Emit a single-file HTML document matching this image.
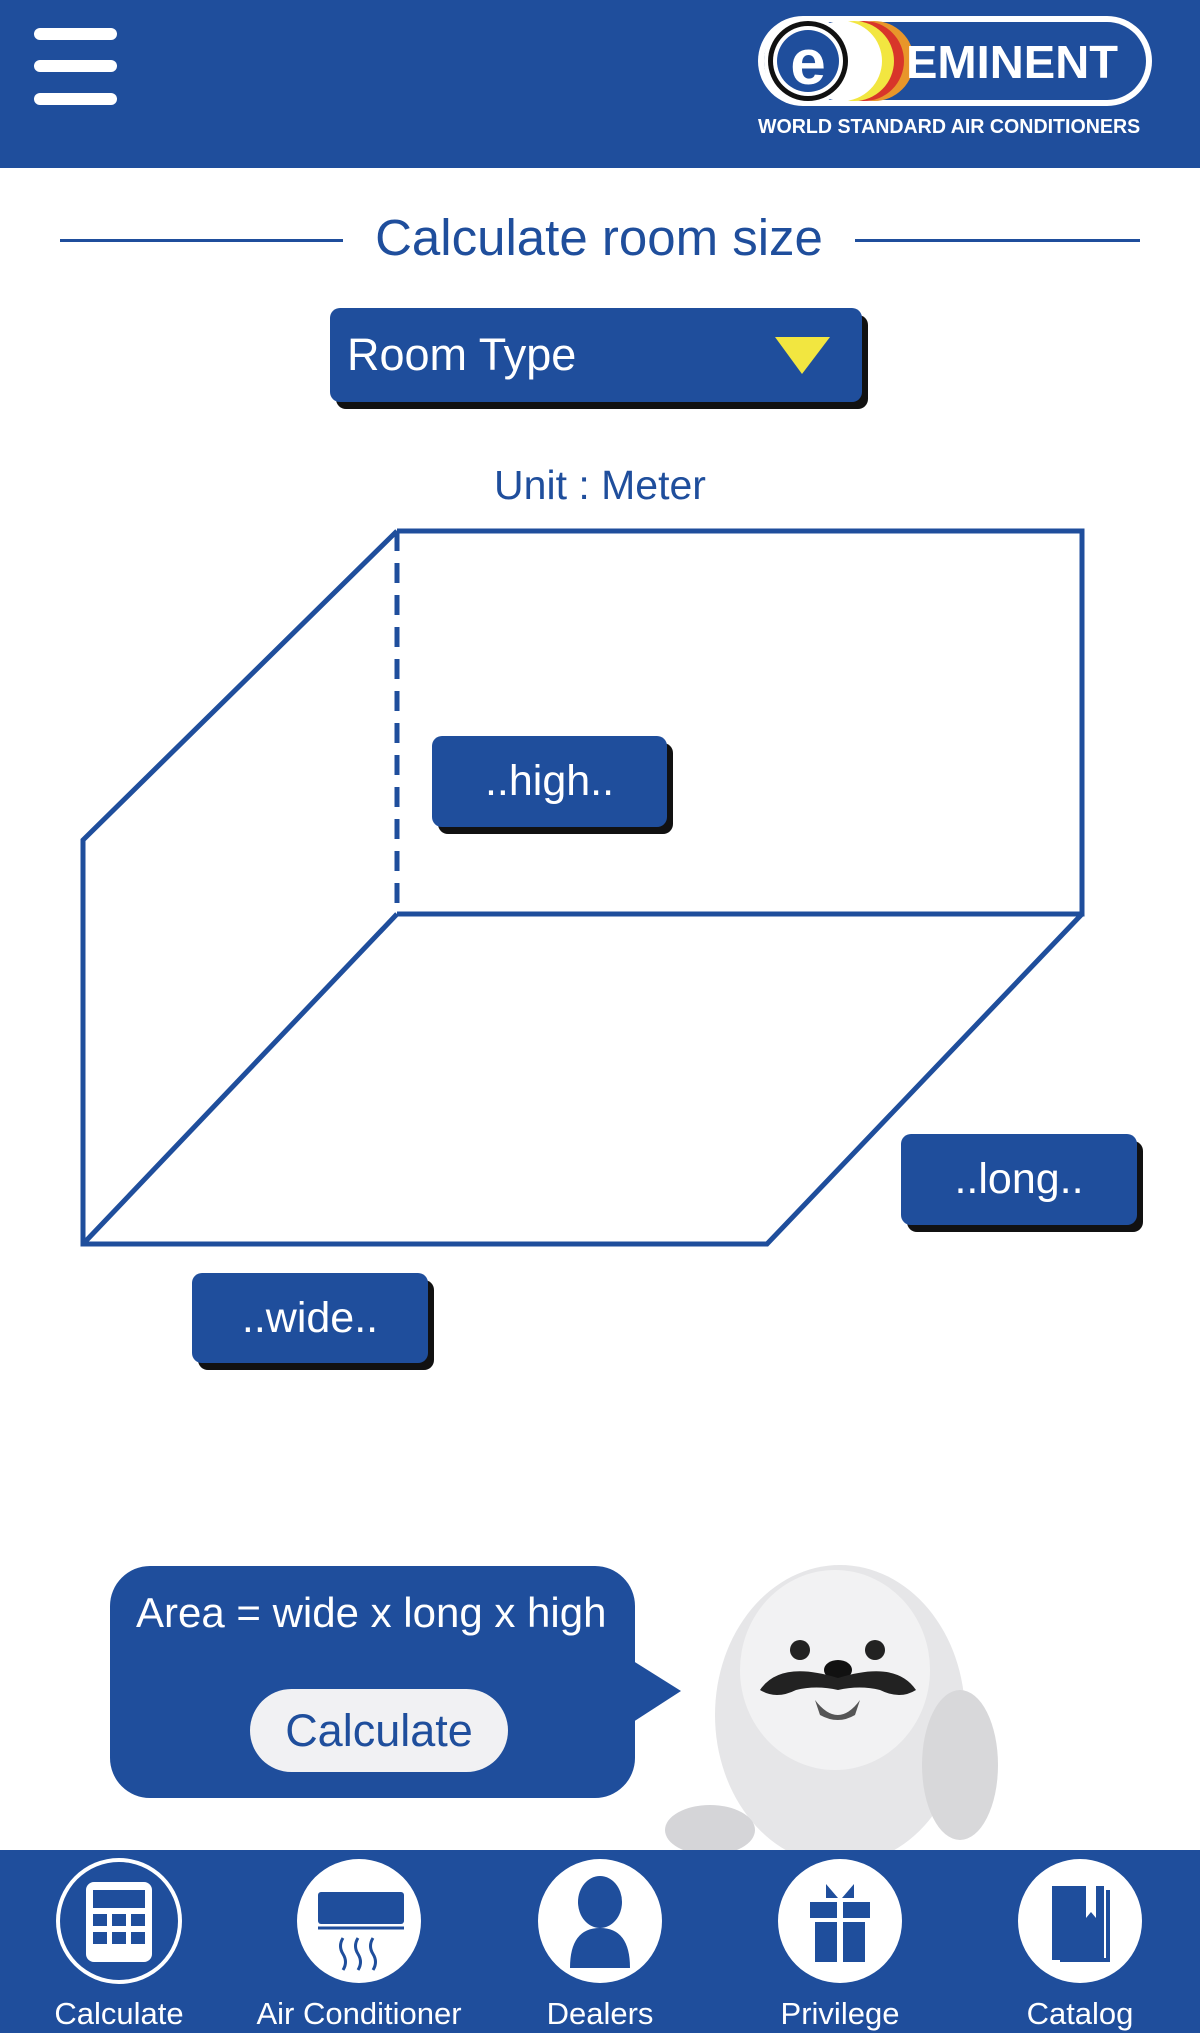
<!DOCTYPE html>
<html><head><meta charset="utf-8"><style>
html,body{margin:0;padding:0;background:#fff;}
body{width:1200px;height:2033px;position:relative;overflow:hidden;font-family:"Liberation Sans",sans-serif;}
.abs{position:absolute;}
.btn{position:absolute;background:#1f4e9c;border-radius:10px;box-shadow:6px 7px 0 #111;color:#fff;font-size:43px;display:flex;align-items:center;justify-content:center;}
.lab{position:absolute;top:1996px;color:#fff;font-size:31px;width:240px;text-align:center;}
</style></head><body>
<div class="abs" style="left:0;top:0;width:1200px;height:168px;background:#1f4e9c"></div>
<div class="abs" style="left:34px;top:28px;width:83px;height:12px;background:#fff;border-radius:6px"></div>
<div class="abs" style="left:34px;top:60px;width:83px;height:12px;background:#fff;border-radius:6px"></div>
<div class="abs" style="left:34px;top:93px;width:83px;height:12px;background:#fff;border-radius:6px"></div>
<svg class="abs" style="left:756px;top:14px" width="400" height="96">
<rect x="2" y="2" width="394" height="90" rx="45" fill="#fff"/>
<rect x="8" y="8" width="382" height="78" rx="39" fill="#1f4e9c"/>
<circle cx="118" cy="47" r="40" fill="#e8962a"/>
<circle cx="108" cy="47" r="40" fill="#d8352a"/>
<circle cx="98" cy="47" r="40" fill="#f2e640"/>
<circle cx="86" cy="47" r="40" fill="#fff"/>
<circle cx="52" cy="47" r="44" fill="#fff"/>
<circle cx="52" cy="47" r="40" fill="#111"/>
<circle cx="52" cy="47" r="35" fill="#fff"/>
<circle cx="52" cy="47" r="31" fill="#1f4e9c"/>
<text x="52" y="70" font-size="64" font-weight="bold" fill="#fff" text-anchor="middle" font-family="Liberation Sans">e</text>
<text x="150" y="64" font-size="46" font-weight="bold" fill="#fff" font-family="Liberation Sans" textLength="212" lengthAdjust="spacingAndGlyphs">EMINENT</text>
</svg>
<div class="abs" style="left:758px;top:116px;width:400px;font-size:20px;font-weight:bold;color:#fff;white-space:nowrap;transform:scaleX(0.98);transform-origin:left">WORLD STANDARD AIR CONDITIONERS</div>

<div class="abs" style="left:60px;top:239px;width:283px;height:3px;background:#1f4e9c"></div>
<div class="abs" style="left:855px;top:239px;width:285px;height:3px;background:#1f4e9c"></div>
<div class="abs" style="left:343px;top:208px;width:512px;text-align:center;font-size:51px;color:#1f4e9c">Calculate room size</div>

<div class="btn" style="left:330px;top:308px;width:532px;height:94px;justify-content:flex-start;padding-left:17px;box-sizing:border-box;font-size:45px">Room Type</div>
<svg class="abs" style="left:775px;top:337px" width="56" height="38"><polygon points="0,0 55,0 27,37" fill="#f2e640"/></svg>

<div class="abs" style="left:400px;top:462px;width:400px;text-align:center;font-size:41px;color:#1f4e9c">Unit : Meter</div>

<svg class="abs" style="left:0;top:0" width="1200" height="1400">
<g stroke="#1f4e9c" stroke-width="5" fill="none">
<polyline points="397,531 1082,531 1082,914 397,914"/>
<line x1="397" y1="531" x2="397" y2="914" stroke-dasharray="20,12"/>
<polyline points="397,531 83,840 83,1244 767,1244 1082,914"/>
<line x1="83" y1="1244" x2="397" y2="914"/>
</g></svg>

<div class="btn" style="left:432px;top:736px;width:235px;height:91px">..high..</div>
<div class="btn" style="left:901px;top:1134px;width:236px;height:91px">..long..</div>
<div class="btn" style="left:192px;top:1273px;width:236px;height:90px">..wide..</div>

<svg class="abs" style="left:0;top:1540px" width="1200" height="320">
<rect x="110" y="26" width="525" height="232" rx="40" fill="#1f4e9c"/>
<polygon points="630,119 681,151 630,184" fill="#1f4e9c"/>
<ellipse cx="840" cy="175" rx="125" ry="150" fill="#e6e6e8"/>
<ellipse cx="835" cy="130" rx="95" ry="100" fill="#f2f2f3"/>
<ellipse cx="960" cy="225" rx="38" ry="75" fill="#d8d8da"/>
<ellipse cx="710" cy="290" rx="45" ry="25" fill="#d5d5d8"/>
<circle cx="800" cy="110" r="10" fill="#222"/>
<circle cx="875" cy="110" r="10" fill="#222"/>
<ellipse cx="838" cy="130" rx="14" ry="10" fill="#111"/>
<path d="M760 150 Q780 120 838 138 Q896 120 916 150 Q900 160 880 150 Q860 145 838 150 Q816 145 796 150 Q776 160 760 150Z" fill="#222"/>
<path d="M815 160 Q838 190 860 160 L855 175 Q838 185 820 175Z" fill="#555"/>
</svg>
<div class="abs" style="left:136px;top:1589px;font-size:42px;color:#fff;white-space:nowrap">Area = wide x long x high</div>
<div class="abs" style="left:250px;top:1689px;width:258px;height:83px;border-radius:42px;background:#f1f1f3;color:#1f4e9c;font-size:45px;display:flex;align-items:center;justify-content:center">Calculate</div>

<div class="abs" style="left:0;top:1850px;width:1200px;height:183px;background:#1f4e9c"></div>
<svg class="abs" style="left:0;top:1850px" width="1200" height="150">
<circle cx="119" cy="71" r="63" fill="#fff"/><circle cx="119" cy="71" r="59" fill="#1f4e9c"/>
<rect x="86" y="32" width="66" height="80" rx="8" fill="#fff"/>
<rect x="93" y="40" width="52" height="18" fill="#1f4e9c"/>
<g fill="#1f4e9c"><rect x="93" y="64" width="14" height="12"/><rect x="112" y="64" width="14" height="12"/><rect x="131" y="64" width="14" height="12"/>
<rect x="93" y="82" width="14" height="12"/><rect x="112" y="82" width="14" height="12"/><rect x="131" y="82" width="14" height="12"/></g>
<circle cx="359" cy="71" r="62" fill="#fff"/>
<rect x="318" y="42" width="86" height="32" rx="3" fill="#1f4e9c"/>
<line x1="318" y1="78" x2="404" y2="78" stroke="#1f4e9c" stroke-width="3"/>
<path d="M343 88 q-5 8 0 16 q5 8 0 16 M358 88 q-5 8 0 16 q5 8 0 16 M373 88 q-5 8 0 16 q5 8 0 16" stroke="#1f4e9c" stroke-width="3" fill="none"/>
<circle cx="600" cy="71" r="62" fill="#fff"/>
<ellipse cx="600" cy="52" rx="22" ry="26" fill="#1f4e9c"/>
<path d="M570 118 Q570 78 600 78 Q630 78 630 118Z" fill="#1f4e9c"/>
<circle cx="840" cy="71" r="62" fill="#fff"/>
<rect x="810" y="52" width="60" height="16" fill="#1f4e9c"/>
<rect x="815" y="72" width="50" height="40" fill="#1f4e9c"/>
<rect x="837" y="52" width="6" height="60" fill="#fff"/>
<path d="M838 48 L826 34 L826 48Z M842 48 L854 34 L854 48Z" fill="#1f4e9c"/>
<circle cx="1080" cy="71" r="62" fill="#fff"/>
<rect x="1052" y="36" width="52" height="74" fill="#1f4e9c"/>
<rect x="1060" y="108" width="50" height="4" fill="#1f4e9c"/>
<rect x="1106" y="40" width="4" height="70" fill="#1f4e9c"/>
<polygon points="1086,36 1096,36 1096,68 1091,62 1086,68" fill="#fff"/>
</svg>
<div class="lab" style="left:-1px">Calculate</div>
<div class="lab" style="left:239px">Air Conditioner</div>
<div class="lab" style="left:480px">Dealers</div>
<div class="lab" style="left:720px">Privilege</div>
<div class="lab" style="left:960px">Catalog</div>
</body></html>
